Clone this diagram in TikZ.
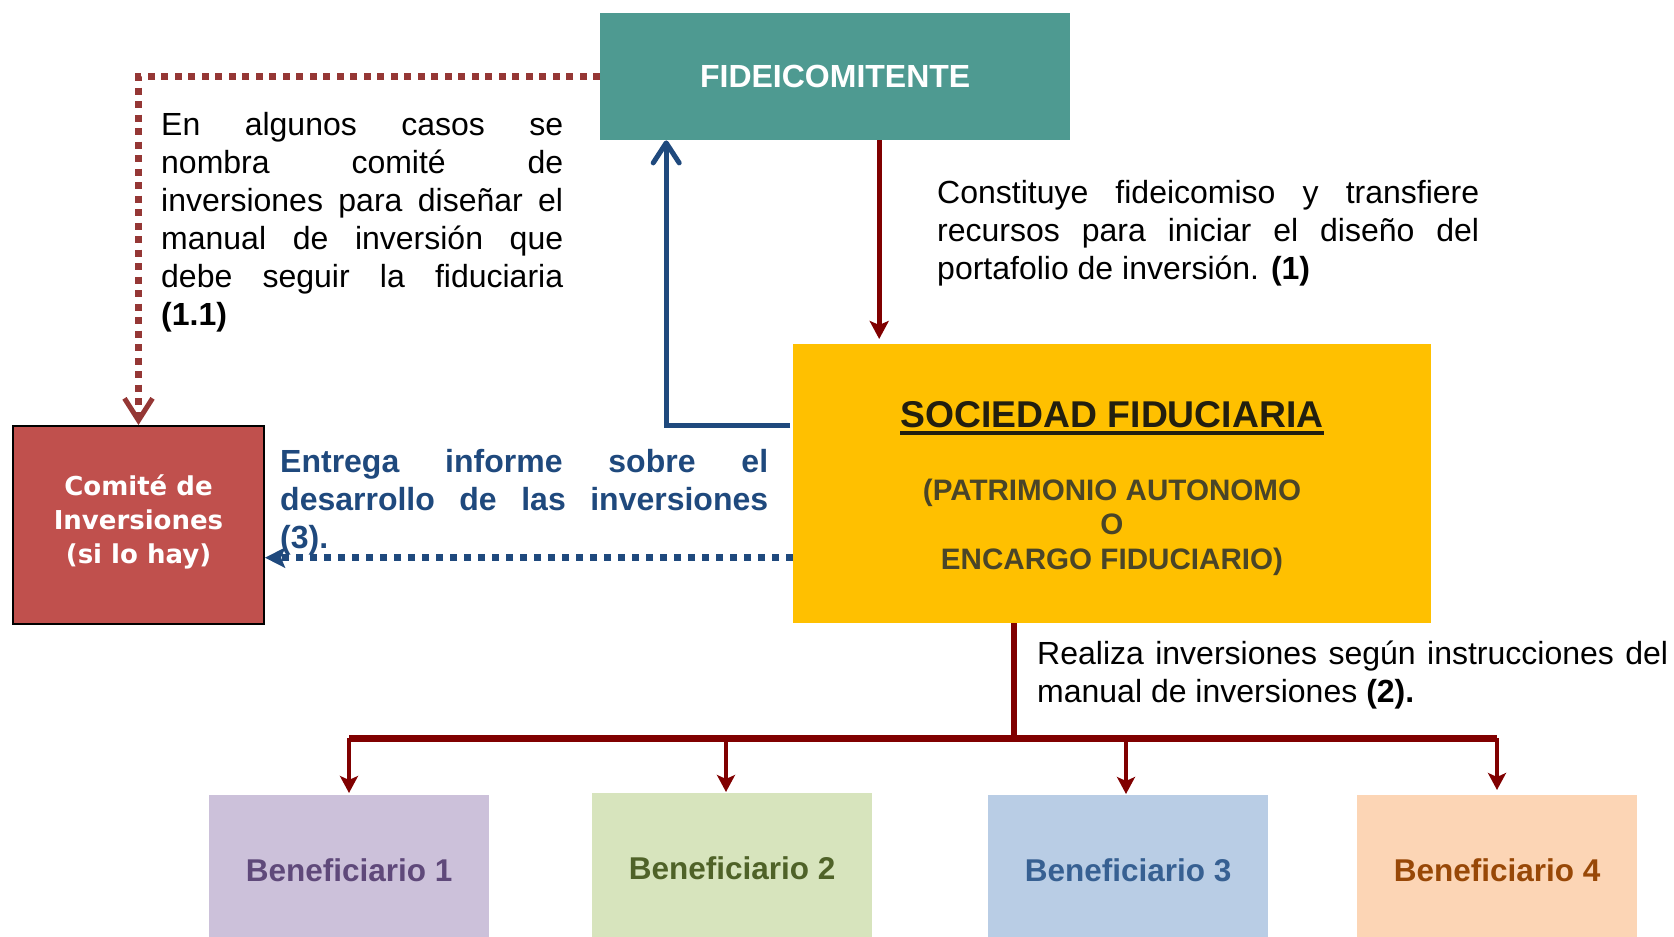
\documentclass[tikz,border=0pt]{standalone}
\usepackage{fontspec}
\setmainfont{Liberation Sans}
\newfontfamily\dvsans{DejaVu Sans}
\usetikzlibrary{arrows.meta}
\setlength\parindent{0pt}
\hyphenpenalty=10000
\exhyphenpenalty=10000
\tolerance=10000
\hbadness=10000
\definecolor{teal1}{HTML}{4E9A91}
\definecolor{gold1}{HTML}{FFC000}
\definecolor{comred}{HTML}{C0504D}
\definecolor{darkred1}{HTML}{800000}
\definecolor{brownd}{HTML}{953735}
\definecolor{blue1}{HTML}{1F497D}
\definecolor{sftext}{HTML}{231F0F}
\definecolor{sfsub}{HTML}{4A4528}
\definecolor{b1fill}{HTML}{CCC1DA}
\definecolor{b1text}{HTML}{5F497A}
\definecolor{b2fill}{HTML}{D7E4BD}
\definecolor{b2text}{HTML}{4F6228}
\definecolor{b3fill}{HTML}{B9CDE5}
\definecolor{b3text}{HTML}{376092}
\definecolor{b4fill}{HTML}{FCD5B5}
\definecolor{b4text}{HTML}{984807}
\begin{document}
\begin{tikzpicture}[x=1pt,y=-1pt,
  box/.style={rectangle, inner sep=0pt, anchor=north west},
  para/.style={inner sep=0pt, anchor=base west, align=justify, font=\fontsize{32}{38}\selectfont},
  benef/.style={box, minimum width=280pt, minimum height=150pt, font=\bfseries\fontsize{31.5}{36}\selectfont},
  sfsubtext/.style={anchor=base, inner sep=0pt, text=sfsub, font=\bfseries\fontsize{29.6}{34.5}\selectfont},
  redarrow/.style={draw=darkred1, line width=5pt, -{Stealth[length=18pt,width=19pt,inset=4pt]}},
  treearrow/.style={draw=darkred1, line width=4.5pt, -{Stealth[length=17pt,width=18pt,inset=4pt]}},
  bluearrow/.style={draw=blue1, line width=5pt, line join=miter, -{Straight Barb[length=20pt,width=26pt,round]}},
  browndot/.style={draw=brownd, line width=6.5pt, dash pattern=on 7pt off 6.5pt, -{Straight Barb[length=22pt,width=28pt,line width=5pt]}},
  bluedot/.style={draw=blue1, line width=7pt, dash pattern=on 7pt off 7pt, -{Stealth[length=20pt,width=20pt,inset=4pt]}}
]
\useasboundingbox (0,0) rectangle (1674,937);

% boxes
\node[box, fill=teal1, minimum width=470pt, minimum height=127pt,
      text=white, font=\bfseries\fontsize{32}{38}\selectfont] (fide) at (600,13) {FIDEICOMITENTE};
\node[box, fill=gold1, minimum width=638pt, minimum height=279pt] (sf) at (793,344) {};
\node[box, fill=comred, draw=black, line width=2pt, minimum width=251pt, minimum height=198pt,
      text=white, align=center, text depth=12pt, font=\dvsans\bfseries\fontsize{26}{34}\selectfont] (com) at (12,425)
      {Comité de\\Inversiones\\(si lo hay)};

% Sociedad texts
\node[anchor=base, inner sep=0pt, text=sftext, font=\bfseries\fontsize{37.3}{42}\selectfont] (sft) at (1112,427) {SOCIEDAD FIDUCIARIA};
\draw[sftext, line width=3.5pt] ([yshift=-6pt]sft.base west) -- ([yshift=-6pt]sft.base east);
\node[sfsubtext] (sfa) at (1112,500) {(PATRIMONIO AUTONOMO};
\node[sfsubtext] (sfb) at (1112,534) {O};
\node[sfsubtext] (sfc) at (1112,569) {ENCARGO FIDUCIARIO)};

% beneficiaries
\node[benef, fill=b1fill, text=b1text] (b1) at (209,795) {Beneficiario 1};
\node[benef, fill=b2fill, text=b2text] (b2) at (592,793) {Beneficiario 2};
\node[benef, fill=b3fill, text=b3text] (b3) at (988,795) {Beneficiario 3};
\node[benef, fill=b4fill, text=b4text] (b4) at (1357,795) {Beneficiario 4};

% paragraphs
\node[para, text width=402pt] (tl) at (161,135)
  {En algunos casos se\linebreak nombra comité de\linebreak inversiones para diseñar el\linebreak manual de inversión que\linebreak debe seguir la fiduciaria\linebreak \textbf{(1.1)}};
\node[para, text width=542pt] (tr) at (937,203)
  {Constituye fideicomiso y transfiere\linebreak recursos para iniciar el diseño del\linebreak portafolio de inversión. \textbf{(1)}};
\node[para, text width=488pt, text=blue1, font=\bfseries\fontsize{32}{38}\selectfont] (tb) at (280,472)
  {Entrega informe sobre el\linebreak desarrollo de las inversiones\linebreak (3).};
\node[para, text width=631pt] (t2) at (1037,664)
  {Realiza inversiones según instrucciones del\linebreak manual de inversiones \textbf{(2).}};

% connectors
\draw[redarrow, shorten >=5pt] ([xshift=44pt]fide.south) -- ([xshift=44pt]fide.south |- sf.north);
\draw[bluearrow] ([yshift=58.5pt,xshift=-3pt]sf.west) -| ([xshift=-169pt]fide.south);
\draw[browndot] (fide.west) -| (com.north);
\draw[bluedot] ([yshift=-74pt]sf.west) -- ([yshift=-74pt]sf.west -| com.east);

\coordinate (trk) at (1014,738);
\coordinate (j1) at (349,738);
\coordinate (j2) at (726,738);
\coordinate (j3) at (1126,738);
\coordinate (j4) at (1497,738);
\draw[darkred1, line width=5.5pt] (trk |- sf.south) -- (trk);
\draw[darkred1, line width=7pt] (j1) -- (j4);
\draw[treearrow, shorten >=2pt] (j1) -- (j1 |- b1.north);
\draw[treearrow, shorten >=1pt] (j2) -- (j2 |- b2.north);
\draw[treearrow, shorten >=1pt] (j3) -- (j3 |- b3.north);
\draw[treearrow, shorten >=5pt] (j4) -- (j4 |- b4.north);
\end{tikzpicture}
\end{document}
